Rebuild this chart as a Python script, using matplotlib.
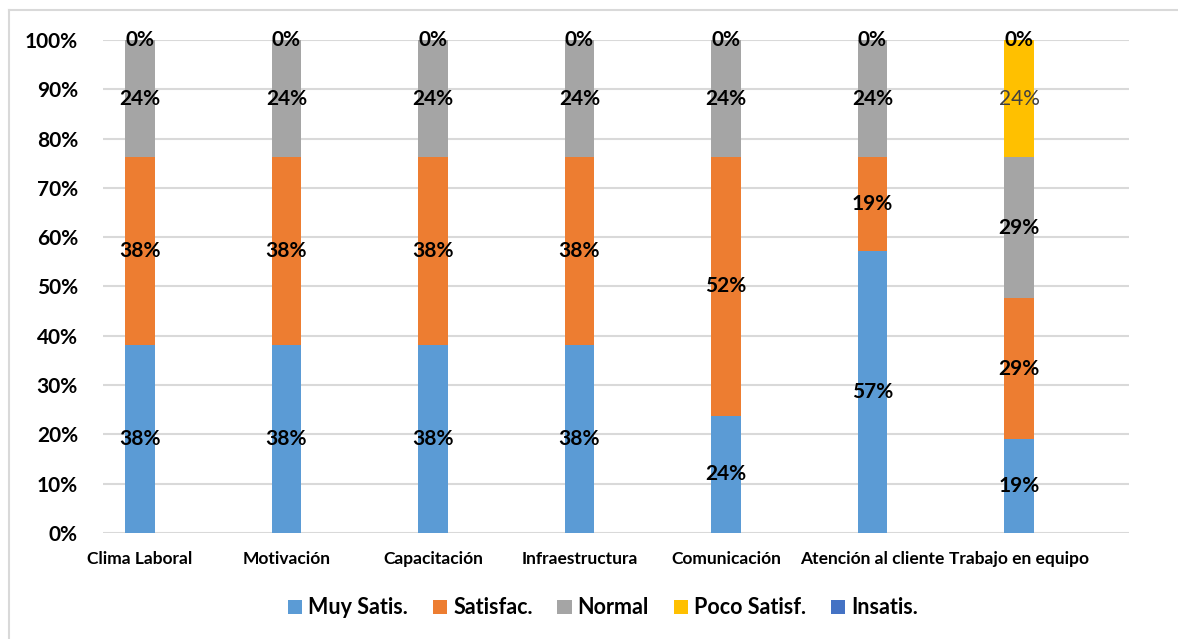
import numpy as np
import matplotlib
matplotlib.use("Agg")
import matplotlib.pyplot as plt
from matplotlib.lines import Line2D

plt.rcParams['font.family'] = ['Lato', 'DejaVu Sans']

categories = ["Clima Laboral", "Motivación", "Capacitación", "Infraestructura",
              "Comunicación", "Atención al cliente", "Trabajo en equipo"]
series_names = ["Muy Satis.", "Satisfac.", "Normal", "Poco Satisf.", "Insatis."]
muy_satis = [38.1, 38.1, 38.1, 38.1, 23.8, 57.1, 19.0]
satisfac = [38.1, 38.1, 38.1, 38.1, 52.4, 19.0, 28.6]
normal = [23.8, 23.8, 23.8, 23.8, 23.8, 23.8, 28.6]
poco_satisf = [0.0, 0.0, 0.0, 0.0, 0.0, 0.0, 23.8]
insatis = [0.0, 0.0, 0.0, 0.0, 0.0, 0.0, 0.0]
y_ticks = [0, 10, 20, 30, 40, 50, 60, 70, 80, 90, 100]

colors = ["#5B9BD5", "#ED7D31", "#A5A5A5", "#FFC000", "#4472C4"]
label_style = [
    dict(color="black", fontweight="bold"),
    dict(color="black", fontweight="bold"),
    dict(color="black", fontweight="bold"),
    dict(color="#404040", fontweight="normal"),
    dict(color="black", fontweight="bold"),
]

data = np.array([muy_satis, satisfac, normal, poco_satisf, insatis], dtype=float)
pct = data / data.sum(axis=0) * 100.0
n_series = len(series_names)

fig = plt.figure(figsize=(11.78, 6.39), dpi=100)
ax = fig.add_axes([0.0874, 0.1659, 0.8710, 0.7715])

x = np.arange(len(categories))
bottom = np.zeros(len(categories))
handles = []
for i, name in enumerate(series_names):
    h = ax.bar(x, pct[i], width=0.2, bottom=bottom, color=colors[i],
               label=name, zorder=3, linewidth=0)
    handles.append(h)
    for xi, (b, v, raw) in enumerate(zip(bottom, pct[i], data[i])):
        # an empty segment below the last series shares its label spot at the top
        if raw == 0 and i < n_series - 1 and np.all(data[i + 1:, xi] == 0):
            continue
        ax.text(xi, b + v / 2, f"{round(raw):.0f}%", ha="center", va="center",
                fontsize=15, zorder=5, **label_style[i])
    bottom = bottom + pct[i]

ax.set_xlim(-0.2526, 6.751)
ax.set_ylim(0, 100)
ax.set_yticks(y_ticks)
ax.set_yticklabels([f"{t}%" for t in y_ticks], fontsize=15, fontweight="bold")
ax.set_xticks(x)
ax.set_xticklabels(categories, fontsize=12.5, fontweight="bold")
ax.tick_params(axis="y", length=0, pad=18)
ax.tick_params(axis="x", length=0, pad=13)
ax.grid(axis="y", color="#D9D9D9", linewidth=1.5, zorder=0)
ax.set_axisbelow(True)
for s in ax.spines.values():
    s.set_visible(False)

fig.legend(handles=handles, labels=series_names, loc="center",
           bbox_to_anchor=(603 / 1178, 1 - 608 / 639), ncol=5, frameon=False,
           prop=dict(size=15.5, weight="bold"), handlelength=0.66, handleheight=0.66,
           handletextpad=0.28, columnspacing=1.15)

# outer chart frame
W, H = 1178, 639
fig.add_artist(Line2D([9 / W, 9 / W], [0, 1 - 10 / H], transform=fig.transFigure,
                      color="#D9D9D9", linewidth=1.5))
fig.add_artist(Line2D([9 / W, 1], [1 - 10 / H, 1 - 10 / H], transform=fig.transFigure,
                      color="#D9D9D9", linewidth=1.5))

fig.savefig("out.png", dpi=100)
